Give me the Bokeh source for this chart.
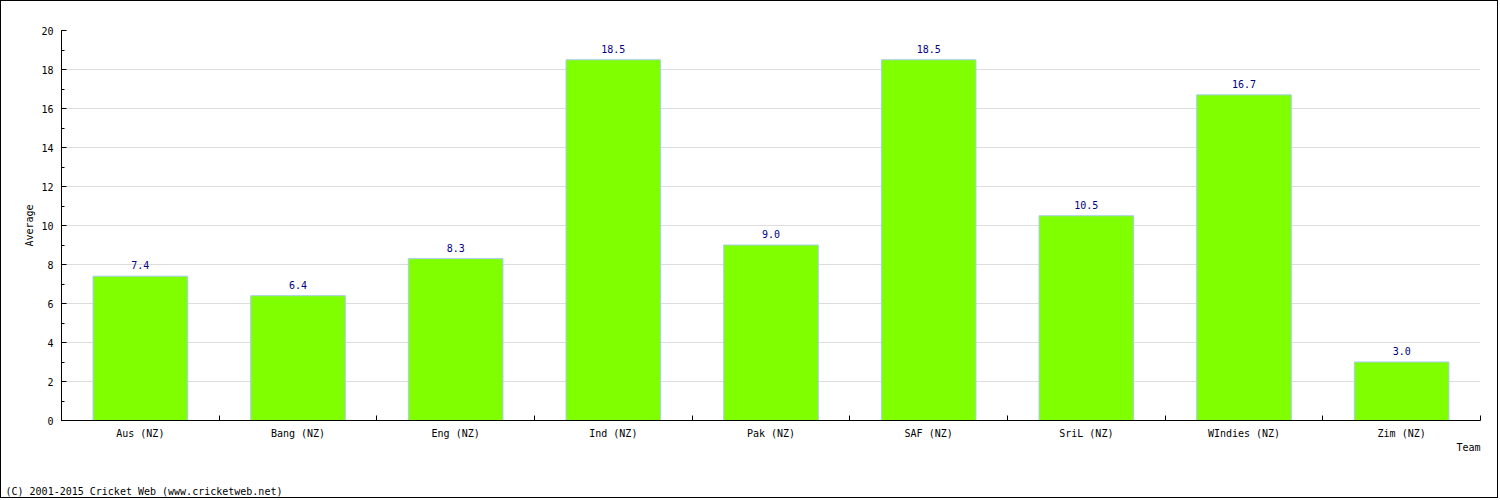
from bokeh.plotting import figure
from bokeh.models import ColumnDataSource, Range1d, FixedTicker, Title, LabelSet
from bokeh.core.properties import value
from bokeh.embed import file_html
from bokeh.resources import INLINE

teams = ["Aus (NZ)", "Bang (NZ)", "Eng (NZ)", "Ind (NZ)", "Pak (NZ)",
         "SAF (NZ)", "SriL (NZ)", "WIndies (NZ)", "Zim (NZ)"]
averages = [7.4, 6.4, 8.3, 18.5, 9.0, 18.5, 10.5, 16.7, 3.0]
y_ticks = [0, 2, 4, 6, 8, 10, 12, 14, 16, 18, 20]

FONT = "DejaVu Sans Mono"

xs = [i + 0.5 for i in range(len(teams))]
src = ColumnDataSource(dict(x=xs, top=averages,
                            lbl=["%.1f" % v for v in averages]))

p = figure(width=1498, height=498, output_backend="svg", toolbar_location=None,
           x_range=Range1d(0, len(teams)), y_range=Range1d(0, 20),
           min_border_left=60, min_border_right=19, min_border_top=29,
           min_border_bottom=79, styles={"border": "1px solid black"})
p.outline_line_color = None
p.background_fill_color = "white"
p.border_fill_color = "white"

p.vbar(x="x", top="top", width=0.6, source=src, fill_color="#7fff00",
       line_color="#a6cdee", line_width=1)

labels = LabelSet(x="x", y="top", text="lbl", source=src, text_align="center",
                  text_baseline="bottom", y_offset=7, text_font=value(FONT),
                  text_font_size="10px", text_color="#000080")
p.add_layout(labels)

# x axis
xa = p.xaxis[0]
xa.ticker = FixedTicker(ticks=xs, minor_ticks=list(range(len(teams) + 1)))
xa.major_label_overrides = {x: t for x, t in zip(xs, teams)}
xa.major_tick_in = 0
xa.major_tick_out = 0
xa.minor_tick_in = 5
xa.minor_tick_out = 0
xa.major_label_standoff = 7
xa.major_label_text_font = FONT
xa.major_label_text_font_size = "10px"
xa.major_label_text_color = "black"
xa.axis_line_color = "black"

# y axis
ya = p.yaxis[0]
ya.ticker = FixedTicker(ticks=y_ticks, minor_ticks=list(range(0, 21)))
ya.major_tick_in = 5
ya.major_tick_out = 0
ya.minor_tick_in = 3
ya.minor_tick_out = 0
ya.major_label_standoff = 8
ya.major_label_text_font = FONT
ya.major_label_text_font_size = "10px"
ya.major_label_text_color = "black"
ya.axis_label = "Average"
ya.axis_label_standoff = 3
ya.axis_label_text_font = FONT
ya.axis_label_text_font_size = "10px"
ya.axis_label_text_font_style = "normal"
ya.axis_label_text_color = "black"

p.xgrid.grid_line_color = None
p.ygrid.ticker = FixedTicker(ticks=y_ticks)
p.ygrid.grid_line_color = "#dddddd"

team_title = Title(text="Team", align="right", standoff=0, vertical_align="top",
                   text_font=FONT, text_font_size="10px",
                   text_font_style="normal", text_color="black")
p.add_layout(team_title, "below")

spacer = Title(text=" ", standoff=13, text_font=FONT, text_font_size="10px")
p.add_layout(spacer, "below")

cr = Title(text="(C) 2001-2015 Cricket Web (www.cricketweb.net)", align="left",
           offset=-56, standoff=6, text_font=FONT, text_font_size="10px",
           text_font_style="normal", text_color="black")
p.add_layout(cr, "below")

open("out.html", "w").write(file_html(p, INLINE))
